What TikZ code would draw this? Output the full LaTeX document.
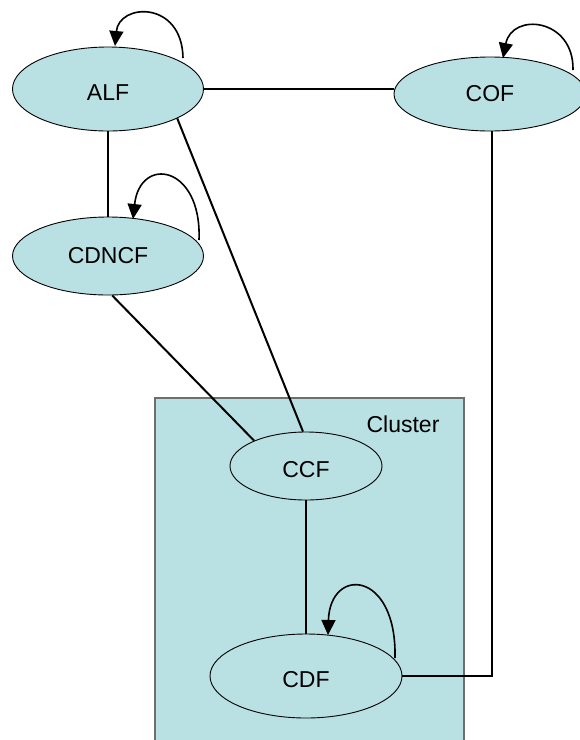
\documentclass[tikz,border=0pt]{standalone}
\usepackage{fontspec}
\setmainfont{Liberation Sans}
\usetikzlibrary{arrows.meta,shapes.geometric}
\definecolor{nodefill}{RGB}{185,224,227}
\definecolor{clusterborder}{RGB}{110,110,110}
\tikzset{
  labelfont/.style={font=\fontsize{23}{27}\selectfont},
  state/.style={ellipse, draw=black, line width=0.9pt, fill=nodefill, inner sep=0pt, labelfont},
  lowtext/.style={text height=23pt, text depth=0pt},
  link/.style={draw=black, line width=2pt},
  selfloop/.style={draw=black, line width=1.6pt, -{Triangle[length=15pt,width=14pt]}},
}
\begin{document}
\begin{tikzpicture}[x=1pt,y=-1pt]
\useasboundingbox (0,0) rectangle (580,740);
% cluster box
\fill[nodefill] (155,398) rectangle (464,745);
\draw[clusterborder, line width=1.2pt] (155,745) -- (155,398) -- (464,398) -- (464,745);
\node[labelfont] (clab) at (403,424) {Cluster};
% nodes
\node[state, lowtext, minimum width=191pt, minimum height=84pt] (ALF) at (108,89) {ALF};
\node[state, minimum width=192pt, minimum height=74pt] (COF) at (490,94) {COF};
\node[state, minimum width=191pt, minimum height=78pt] (CDNCF) at (108,256) {CDNCF};
\node[state, lowtext, minimum width=152pt, minimum height=68pt] (CCF) at (306,466) {CCF};
\node[state, lowtext, minimum width=192pt, minimum height=84pt] (CDF) at (306,676) {CDF};
% connectors
\coordinate (bend) at (492,676);
\draw[link] (ALF.east) -- (ALF.east -| COF.west);
\draw[link] (ALF.south) -- (CDNCF.north);
\draw[link] (ALF.-23) -- (CCF.95);
\draw[link] (CDNCF.-84) -- (CCF.154);
\draw[link] (CCF.south) -- (CDF.north);
\draw[link] (CDF.east) -- (bend) -- (bend |- COF.south);
% self loops
\draw[selfloop] (183,58) .. controls (182,0) and (119,3) .. (115,46);
\draw[selfloop] (573,70) .. controls (574,18) and (512,12) .. (503,58);
\draw[selfloop] (199,240) .. controls (202,165) and (140,155) .. (133,219);
\draw[selfloop] (395,658) .. controls (397,570) and (330,566) .. (328,635);
\end{tikzpicture}
\end{document}
